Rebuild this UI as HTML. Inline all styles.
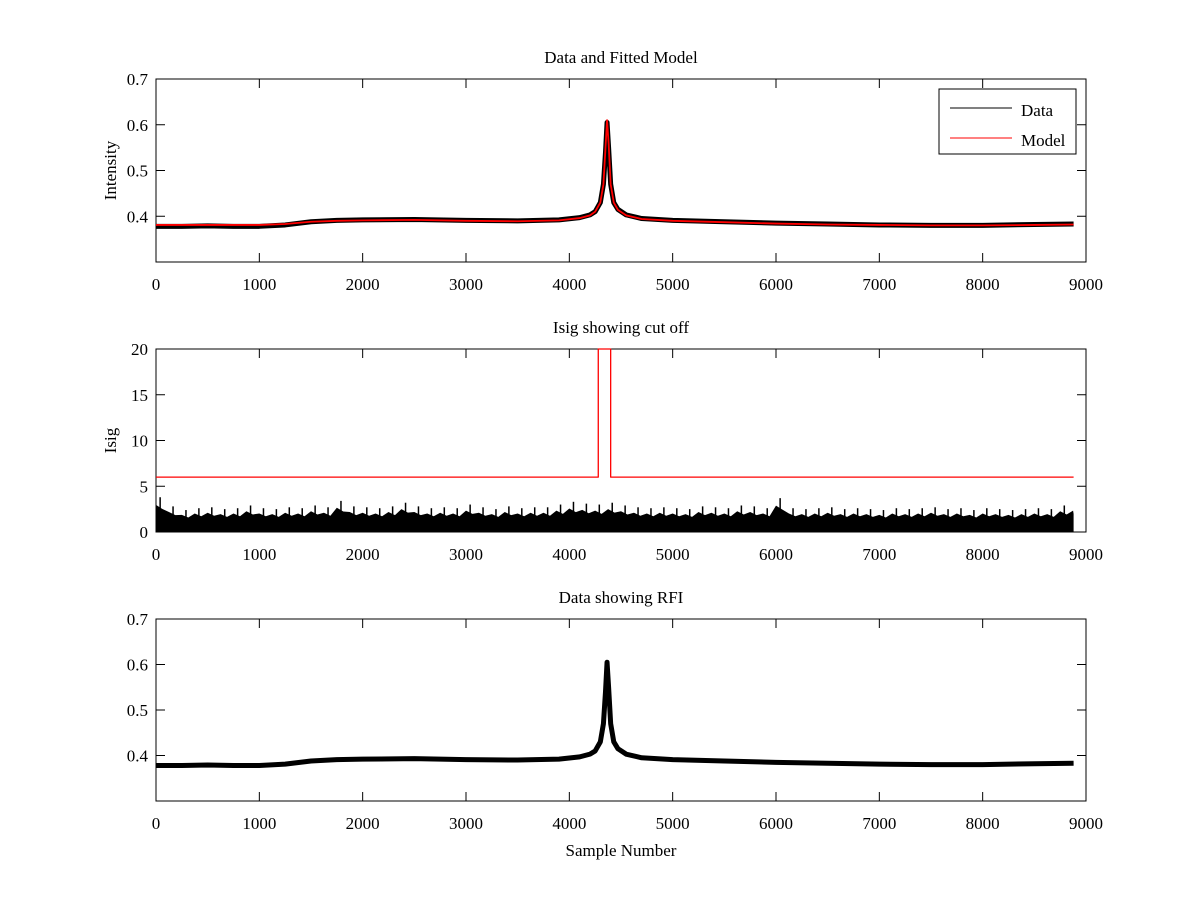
<!DOCTYPE html>
<html><head><meta charset="utf-8"><style>
body{margin:0;background:#fff}
svg text{font-family:"Liberation Serif",serif;font-size:17px;fill:#000}
</style></head><body>
<svg id="s" width="1200" height="900" xmlns="http://www.w3.org/2000/svg"></svg>
<script>
const xTicks=[0,1000,2000,3000,4000,5000,6000,7000,8000,9000];
const dataX=[0,250,500,750,1000,1250,1500,1750,2000,2500,3000,3500,3900,4100,4200,4250,4300,4330,4350,4365,4380,4400,4430,4470,4550,4700,5000,5500,6000,6500,7000,7500,8000,8500,8880];
const dataY=[0.378,0.378,0.379,0.378,0.378,0.381,0.388,0.391,0.392,0.393,0.391,0.390,0.392,0.397,0.403,0.41,0.43,0.47,0.54,0.605,0.55,0.47,0.43,0.415,0.403,0.395,0.391,0.388,0.385,0.383,0.381,0.380,0.380,0.382,0.383];
const modelY=[0.381,0.381,0.381,0.381,0.381,0.383,0.388,0.390,0.391,0.392,0.390,0.389,0.391,0.396,0.402,0.41,0.43,0.47,0.55,0.61,0.56,0.47,0.43,0.414,0.402,0.394,0.390,0.387,0.384,0.382,0.381,0.380,0.380,0.381,0.382];
const isigX=[0,4280,4280,4400,4400,8880];
const isigCut=[6,6,20,20,6,6];
const noiseStep=125;
const noiseEnv=[3.8,2.8,2.4,2.6,2.7,2.5,2.6,2.9,2.6,2.5,2.7,2.6,2.9,2.7,3.4,2.8,2.7,2.6,2.8,3.2,2.8,2.6,2.7,2.6,3.0,2.7,2.5,2.8,2.6,2.7,2.7,3.0,3.3,3.1,3.0,3.2,2.9,2.7,2.6,2.7,2.6,2.5,2.8,2.7,2.6,2.9,2.8,2.6,3.7,2.6,2.5,2.6,2.7,2.5,2.6,2.5,2.4,2.6,2.5,2.6,2.7,2.5,2.6,2.4,2.6,2.5,2.4,2.5,2.6,2.5,2.9,3.0,2.9,3.2,3.4,3.1,3.0,3.2,3.0,3.1,3.0,2.8,3.2,3.0,3.3,2.9,3.0,2.8,2.7,2.9,2.8,2.7,2.6,2.8,2.7,2.6,2.7,2.6,2.5,2.6,2.7,2.6,2.5,2.6,2.5,2.6,2.5,2.4,2.5,2.6,2.4,2.5,2.4,2.5,2.4,2.5,2.4,2.5,2.4,2.6,2.4,2.5,2.4,2.5,2.4,2.5,2.4,2.5,2.4,2.5,2.4,2.5,2.4,2.5,2.4,2.5,2.4,2.5,2.4,2.5,2.4];
const yTicks1=[0.4,0.5,0.6,0.7];
const yTicks2=[0,5,10,15,20];

const S=document.getElementById('s');const NS='http://www.w3.org/2000/svg';
function el(t,a,p){const e=document.createElementNS(NS,t);for(const k in a)e.setAttribute(k,a[k]);(p||S).appendChild(e);return e;}
const L=156,R=1086,XMAX=8880;
const X=v=>L+(v/9000)*(R-L);
function axes(top,bot,y0,y1,yt,title,ylabel,name){
  const Y=v=>bot-(v-y0)/(y1-y0)*(bot-top);
  const g=el('g',{});
  
  
  const r=el('rect',{x:L,y:top,width:R-L,height:bot-top,fill:'none',stroke:'#000','stroke-width':1},g);
  
  
  xTicks.forEach(t=>{
    el('line',{x1:X(t),x2:X(t),y1:bot,y2:bot-9,stroke:'#000'},g);
    el('line',{x1:X(t),x2:X(t),y1:top,y2:top+9,stroke:'#000'},g);
    const tx=el('text',{x:X(t),y:bot+28,'text-anchor':'middle'},g);tx.textContent=t;
    
    
  });
  yt.forEach(t=>{
    el('line',{x1:L,x2:L+9,y1:Y(t),y2:Y(t),stroke:'#000'},g);
    el('line',{x1:R,x2:R-9,y1:Y(t),y2:Y(t),stroke:'#000'},g);
    const tx=el('text',{x:L-8,y:Y(t)+6,'text-anchor':'end'},g);tx.textContent=t;
    
    
  });
  const ti=el('text',{x:(L+R)/2,y:top-16,'text-anchor':'middle'},g);ti.textContent=title;
  
  
  const yl=el('text',{x:0,y:0,'text-anchor':'middle',transform:`translate(${L-40},${(top+bot)/2}) rotate(-90)`},g);yl.textContent=ylabel;
  
  
  return Y;
}
function line(xs,ys,Y,color,w,name){
  const p=el('polyline',{points:xs.map((x,i)=>X(x)+','+Y(ys[i])).join(' '),fill:'none',stroke:color,'stroke-width':w,'stroke-linejoin':'round'});
  
  
}
// plot 1
const Y1=axes(79,262,0.3,0.7,yTicks1,'Data and Fitted Model','Intensity','data-model-plot');
line(dataX,dataY,Y1,'#000',5,'data-series');
line(dataX,modelY,Y1,'#f00',1.8,'model-series');
// legend
const lg=el('g',{});


el('rect',{x:939,y:89,width:137,height:65,fill:'#fff',stroke:'#000'},lg);
el('line',{x1:950,x2:1012,y1:108,y2:108,stroke:'#000'},lg);
el('line',{x1:950,x2:1012,y1:138,y2:138,stroke:'#f00'},lg);
let t=el('text',{x:1021,y:116},lg);t.textContent='Data';


t=el('text',{x:1021,y:146},lg);t.textContent='Model';


// plot 2
const Y2=axes(349,532,0,20,yTicks2,'Isig showing cut off','Isig','isig-plot');
let pts=[X(0)+','+Y2(0)];
noiseEnv.forEach((v,i)=>{const xv=Math.min(i*noiseStep,XMAX);pts.push(X(xv)+','+Y2(v*0.78));pts.push(X(Math.min(xv+noiseStep/2,XMAX))+','+Y2(v*0.66));});
pts.push(X(XMAX)+','+Y2(0));
const np=el('polygon',{points:pts.join(' '),fill:'#000'});


noiseEnv.forEach((v,i)=>{const xv=i*noiseStep+40;if(xv>XMAX)return;const l=el('line',{x1:X(xv),x2:X(xv),y1:Y2(0),y2:Y2(v),stroke:'#000','stroke-width':1.5});

});
line(isigX,isigCut,Y2,'#f00',1.3,'cutoff-line');
// plot 3
const Y3=axes(619,801,0.3,0.7,yTicks1,'Data showing RFI','','rfi-plot');
line(dataX,dataY,Y3,'#000',5,'rfi-data-series');
const xl=el('text',{x:(L+R)/2,y:856,'text-anchor':'middle'});xl.textContent='Sample Number';


</script>
</body></html>
